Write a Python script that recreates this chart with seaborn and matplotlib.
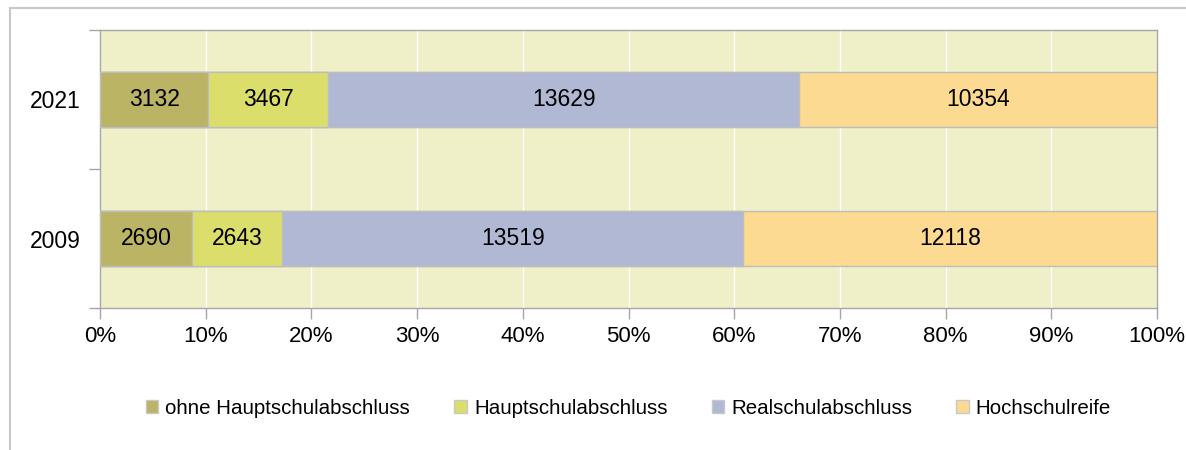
import numpy as np
import pandas as pd
import seaborn as sns
import matplotlib.pyplot as plt
from matplotlib.patches import Patch, Rectangle

# Schulabschluesse, absolute Zahlen
years = ['2021', '2009']
ohne = [3132, 2690]
haupt = [3467, 2643]
real = [13629, 13519]
hoch = [10354, 12118]
series = ['ohne Hauptschulabschluss', 'Hauptschulabschluss', 'Realschulabschluss', 'Hochschulreife']
colors = ['#bbb464', '#dcde6c', '#b0b8d4', '#fcda92']

df = pd.DataFrame({series[0]: ohne, series[1]: haupt, series[2]: real, series[3]: hoch}, index=years)
pct = df.div(df.sum(axis=1), axis=0) * 100
cum = pct.cumsum(axis=1)

sns.set_style('white')
plt.rcParams['font.family'] = ['Liberation Sans', 'DejaVu Sans']
plt.rcParams['text.color'] = 'black'
plt.rcParams['xtick.labelcolor'] = 'black'
plt.rcParams['ytick.labelcolor'] = 'black'

fig = plt.figure(figsize=(11.86, 4.5), dpi=100)
ax = fig.add_axes([100/1186, 1-308/450, 1057/1186, 278/450])
ax.set_facecolor('#f0f0c8')

# outer frame
fig.patches.append(Rectangle((10/1186, -0.1), 1.2, 1-8/450+0.1, transform=fig.transFigure,
                             fill=False, edgecolor='#c8c8c8', linewidth=1.5))

# stacked bars: draw cumulative from widest to narrowest
for s, c in reversed(list(zip(series, colors))):
    sns.barplot(x=cum[s].values, y=years, order=years, orient='h', color=c,
                width=0.39, edgecolor='#bdbdbd', linewidth=1, saturation=1, ax=ax, zorder=3)

for i, y in enumerate(years):
    for s in series:
        xc = cum.loc[y, s] - pct.loc[y, s] / 2
        ax.text(xc, i, f'{df.loc[y, s]}', ha='center', va='center', fontsize=16.5,
                color='black', zorder=5)

ax.set_xlim(0, 100)
ax.set_ylim(1.5, -0.5)
ax.set_xticks(np.arange(0, 101, 10))
ax.set_xticklabels([f'{v}%' for v in range(0, 101, 10)], fontsize=16)
ax.xaxis.grid(True, color='white', linewidth=1, zorder=0)
ax.set_axisbelow(True)
ax.tick_params(axis='x', direction='out', length=8, width=1, color='#a6a6a6', pad=5, bottom=True)

ax.set_yticks([-0.5, 0.5, 1.5])
ax.set_yticklabels([])
ax.set_yticks([0, 1], minor=True)
ax.set_yticklabels(years, minor=True, fontsize=16.5)
ax.tick_params(axis='y', which='major', direction='out', length=8, width=1, color='#a6a6a6', left=True)
ax.tick_params(axis='y', which='minor', length=0, pad=14)
ax.set_xlabel('')
ax.set_ylabel('')

for sp in ax.spines.values():
    sp.set_visible(True)
    sp.set_color('#a6a6a6')
    sp.set_linewidth(1)

handles = [Patch(facecolor=c, edgecolor='#c8c8c8', label=s) for s, c in zip(series, colors)]
ax.legend(handles=handles, loc='center', bbox_to_anchor=(0.5, -0.36), ncol=4, frameon=False,
          fontsize=14.8, handlelength=0.6, handleheight=0.6, handletextpad=0.35, columnspacing=2.15)

fig.savefig('out.png', dpi=100)
